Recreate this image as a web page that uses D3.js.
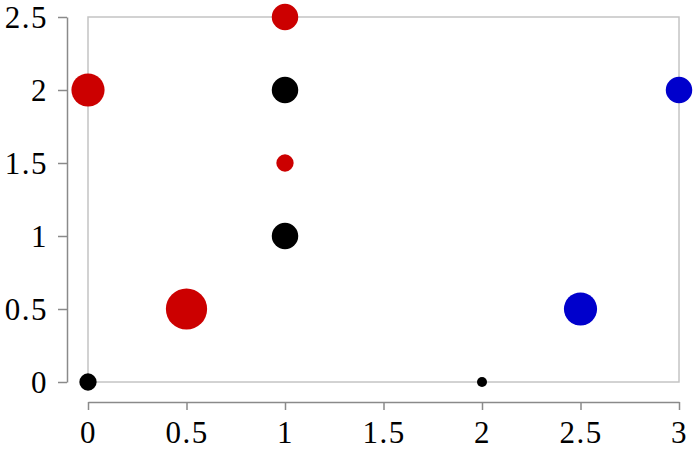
<!DOCTYPE html>
<html>
<head>
<meta charset="utf-8">
<script src="https://cdn.jsdelivr.net/npm/d3@7"></script>
<style>
  body { margin: 0; background: #fff; }
  .tick text { font-family: "Liberation Serif", serif; font-size: 31px; fill: #000; letter-spacing: 1.5px; }
</style>
</head>
<body>
<div class="canvas"></div>
<script>
// point data
const xs     = [0, 0.5, 0, 1, 1, 1, 1, 2, 2.5, 3];
const ys     = [0, 0.5, 2, 2.5, 2, 1.5, 1, 0, 0.5, 2];
const sizes  = [3, 17, 11, 7, 7, 3, 7, 1, 11, 7];
const groups = ['k', 'r', 'r', 'r', 'k', 'r', 'k', 'k', 'b', 'b'];

const xTicks = [0, 0.5, 1, 1.5, 2, 2.5, 3];
const yTicks = [0, 0.5, 1, 1.5, 2, 2.5];

const dims = { width: 697, height: 449 };
const plot = { left: 88, right: 679, top: 17, bottom: 382 };

const svg = d3.select('.canvas')
  .append('svg')
  .attr('width', dims.width)
  .attr('height', dims.height);

const x = d3.scaleLinear().domain([0, 3]).range([plot.left, plot.right]);
const y = d3.scaleLinear().domain([0, 2.5]).range([plot.bottom, plot.top]);
const r = d3.scaleSqrt().domain([0, 17]).range([0, 5 * Math.sqrt(17)]);
const colour = d3.scaleOrdinal().domain(['k', 'r', 'b']).range(['#000000', '#cc0000', '#0000cc']);

// frame
svg.append('rect')
  .attr('x', plot.left)
  .attr('y', plot.top)
  .attr('width', plot.right - plot.left)
  .attr('height', plot.bottom - plot.top)
  .attr('fill', 'none')
  .attr('stroke', '#c4c4c4')
  .attr('stroke-width', 1.5);

// offset axes
const fmt = d => String(d);

const xAxis = svg.append('g')
  .attr('transform', 'translate(0, 402)')
  .call(d3.axisBottom(x).tickValues(xTicks).tickFormat(fmt).tickSize(8).tickSizeOuter(0).tickPadding(10));

const yAxis = svg.append('g')
  .attr('transform', 'translate(67, 0)')
  .call(d3.axisLeft(y).tickValues(yTicks).tickFormat(fmt).tickSize(9).tickSizeOuter(0).tickPadding(10));

[xAxis, yAxis].forEach(a => {
  a.attr('font-family', null).attr('font-size', null);
  a.select('.domain').attr('stroke', '#8a8a8a').attr('stroke-width', 1.5);
  a.selectAll('.tick line').attr('stroke', '#8a8a8a').attr('stroke-width', 1.5);
});
xAxis.selectAll('.tick text').attr('dy', '0.74em');
yAxis.selectAll('.tick text').attr('dy', '0.34em');

// points
const pts = xs.map((d, i) => ({ x: d, y: ys[i], s: sizes[i], g: groups[i] }));

svg.append('g')
  .selectAll('circle')
  .data(pts)
  .enter()
  .append('circle')
  .attr('cx', d => x(d.x))
  .attr('cy', d => y(d.y))
  .attr('r', d => r(d.s))
  .attr('fill', d => colour(d.g));
</script>
</body>
</html>
